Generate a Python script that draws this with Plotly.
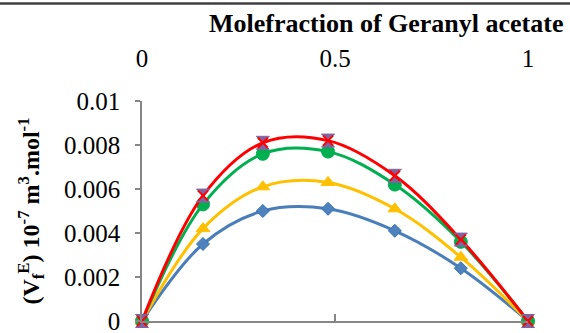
import plotly.graph_objects as go

# Data
mole_fraction = [0, 0.158, 0.313, 0.482, 0.655, 0.826, 1.0]
series_blue = [0, 0.0035, 0.0050, 0.0051, 0.0041, 0.0024, 0]
series_yellow = [0, 0.0042, 0.0061, 0.0063, 0.0051, 0.0029, 0]
series_green = [0, 0.0053, 0.0076, 0.0077, 0.0062, 0.0036, 0]
series_red = [0, 0.0057, 0.0081, 0.0082, 0.0066, 0.0037, 0]
y_ticks = [0, 0.002, 0.004, 0.006, 0.008, 0.01]
y_tick_labels = ["0", "0.002", "0.004", "0.006", "0.008", "0.01"]
x_ticks = [0, 0.5, 1]
x_tick_labels = ["0", "0.5", "1"]

FONT = "'Liberation Serif', 'Times New Roman', Times, 'DejaVu Serif', serif"
W, H = 570, 333
ML, MR, MT, MB = 142, 42, 101, 12

fig = go.Figure()

def add_series(y, line_color, symbol, msize, mcolor, mline):
    fig.add_trace(go.Scatter(
        x=mole_fraction, y=y, mode="lines+markers",
        line=dict(color=line_color, width=3, shape="spline", smoothing=1),
        marker=dict(symbol=symbol, size=msize, color=mcolor,
                    line=dict(color=mline, width=1)),
        cliponaxis=False, showlegend=False))

add_series(series_blue, "#4A7EBB", "diamond", 10, "#4F81BD", "#2E75B6")
add_series(series_yellow, "#FFC000", "triangle-up", 12, "#FFC000", "#FFC000")
add_series(series_green, "#00B050", "circle", 13, "#00B050", "#00B050")
add_series(series_red, "#FF0000", "hourglass", 13, "#8064A2", "#8064A2")
fig.add_trace(go.Scatter(
    x=mole_fraction, y=series_red, mode="markers",
    marker=dict(symbol="x-thin-open", size=10, color="#FF0000",
                line=dict(color="#FF0000", width=2)),
    cliponaxis=False, showlegend=False))

# invisible trace for the top axis
fig.add_trace(go.Scatter(x=[0, 1], y=[0, 0], xaxis="x2", mode="markers",
                         marker=dict(opacity=0), showlegend=False, hoverinfo="skip"))

fig.update_layout(
    width=W, height=H,
    margin=dict(l=ML, r=MR, t=MT, b=MB, autoexpand=False),
    paper_bgcolor="white", plot_bgcolor="white",
    font=dict(family=FONT, size=25, color="black"),
    xaxis=dict(range=[0, 1], showgrid=False, zeroline=False, automargin=False,
               showline=True, linecolor="#868686", linewidth=1.5,
               ticks="inside", ticklen=7, tickwidth=1.5, tickcolor="#868686",
               tickvals=x_ticks, showticklabels=False),
    xaxis2=dict(range=[0, 1], overlaying="x", side="top", anchor="y",
                automargin=False,
                showgrid=False, zeroline=False, showline=False, ticks="",
                tickvals=x_ticks, ticktext=x_tick_labels,
                ticklabelstandoff=28,
                tickfont=dict(family=FONT, size=25, color="black")),
    yaxis=dict(range=[0, 0.01], showgrid=False, zeroline=False, automargin=False,
               showline=True, linecolor="#868686", linewidth=1.5,
               ticks="outside", ticklen=5, tickwidth=1.5, tickcolor="#868686",
               tickvals=y_ticks, ticktext=y_tick_labels,
               ticklabeloverflow="allow", ticklabelstandoff=10,
               tickfont=dict(family=FONT, size=25, color="black"),
               title=dict(text="<b>(V<sub>f</sub><sup>E</sup>) 10<sup>-7</sup> m<sup>3</sup>.mol<sup>-1</sup></b>",
                          font=dict(family=FONT, size=24, color="black"),
                          standoff=18)),
    annotations=[dict(
        text="<b>Molefraction of Geranyl acetate</b>",
        xref="paper", yref="paper",
        x=(565 - ML) / (W - ML - MR), y=(H - MB - 23) / (H - MT - MB),
        xanchor="right", yanchor="middle", showarrow=False,
        font=dict(family=FONT, size=26, color="black"))],
    shapes=[dict(type="line", xref="paper", yref="paper",
                 x0=-ML / (W - ML - MR), x1=(W - ML) / (W - ML - MR),
                 y0=(H - MB - 3.5) / (H - MT - MB), y1=(H - MB - 3.5) / (H - MT - MB),
                 line=dict(color="#404040", width=2.5))],
)

fig.write_html("out.html")
